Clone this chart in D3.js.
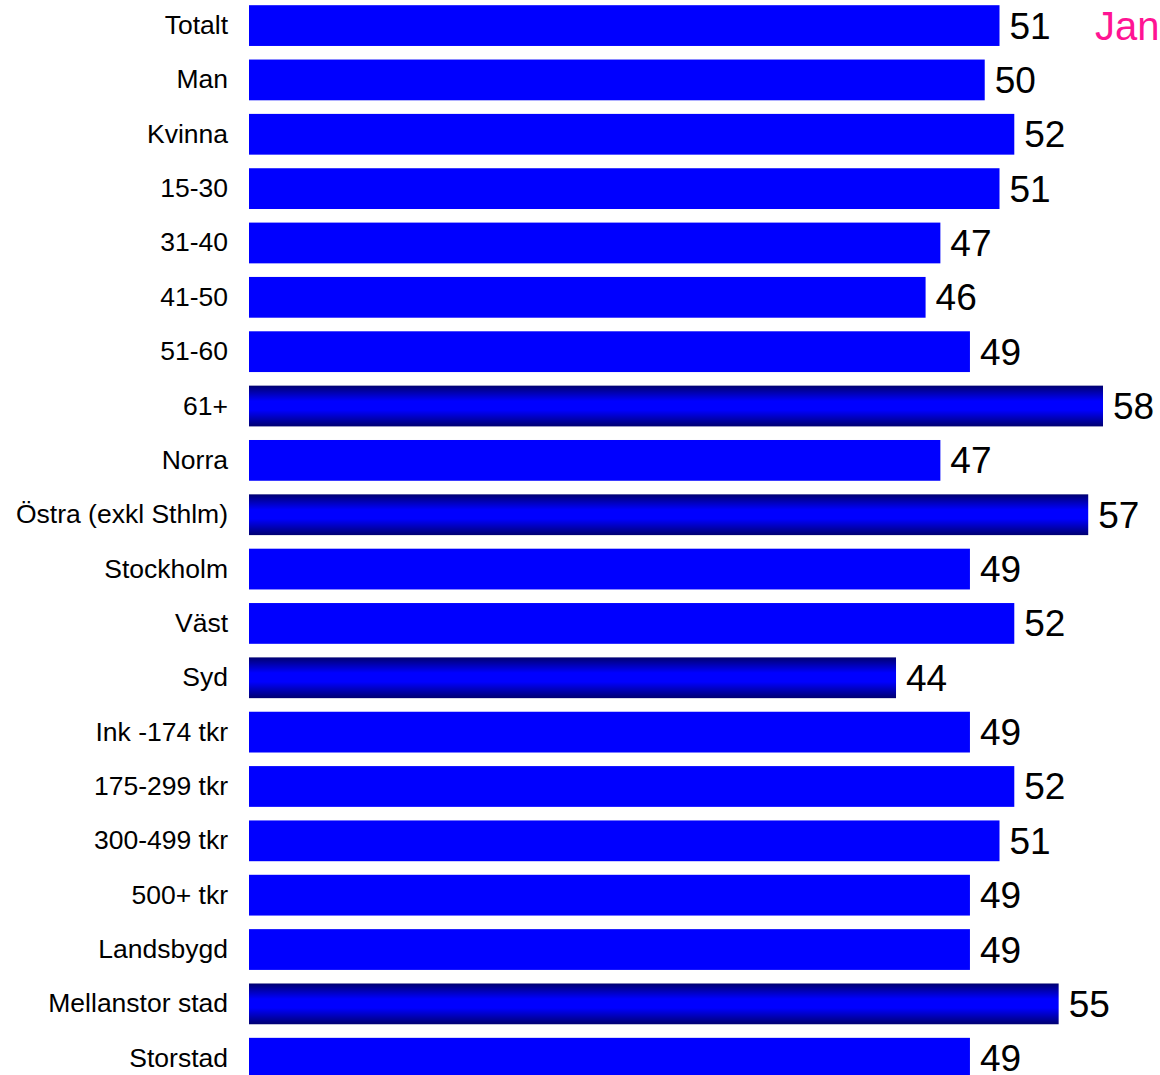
<!DOCTYPE html>
<html><head><meta charset="utf-8">
<script src="https://cdn.jsdelivr.net/npm/d3@7/dist/d3.min.js"></script>
<style>body{margin:0;background:#fff;}svg{display:block;}</style>
</head><body>
<script>
const categories = ["Totalt","Man","Kvinna","15-30","31-40","41-50","51-60","61+","Norra","Östra (exkl Sthlm)","Stockholm","Väst","Syd","Ink -174 tkr","175-299 tkr","300-499 tkr","500+ tkr","Landsbygd","Mellanstor stad","Storstad"];
const values = [51,50,52,51,47,46,49,58,47,57,49,52,44,49,52,51,49,49,55,49];
const highlighted = [false,false,false,false,false,false,false,true,false,true,false,false,true,false,false,false,false,false,true,false];
const periodLabel = "Jan";

const W = 1160, H = 1075;
const svg = d3.select("body").append("svg").attr("width", W).attr("height", H);
const font = "'Liberation Sans', Arial, Helvetica, sans-serif";

const defs = svg.append("defs");
const g = defs.append("linearGradient").attr("id","hl").attr("x1",0).attr("y1",0).attr("x2",0).attr("y2",1);
[[0,"#000070"],[0.38,"#0000ff"],[0.6,"#0000ff"],[1,"#000070"]].forEach(([o,c])=>g.append("stop").attr("offset",o).attr("stop-color",c));

const x = d3.scaleLinear().domain([0, 58]).range([245.5, 1103]);
const y = d3.scaleBand().domain(categories).range([-1.6, 1085.4]).paddingInner(0.25).paddingOuter(0.125);
const barLeft = 249;

const rows = svg.append("g").selectAll("g").data(categories).join("g");
rows.append("rect")
  .attr("x", barLeft)
  .attr("y", d => y(d))
  .attr("height", y.bandwidth())
  .attr("width", (d,i) => x(values[i]) - barLeft)
  .attr("fill", (d,i) => highlighted[i] ? "url(#hl)" : "#0000ff");

rows.append("text")
  .attr("x", 228)
  .attr("y", d => y(d) + y.bandwidth()/2 + 8.5)
  .attr("text-anchor","end")
  .attr("font-family", font)
  .attr("font-size", 26.5)
  .attr("fill","#000")
  .text(d => d);

rows.append("text")
  .attr("x", (d,i) => x(values[i]) + 10)
  .attr("y", d => y(d) + y.bandwidth()/2 + 13)
  .attr("font-family", font)
  .attr("font-size", 37)
  .attr("fill","#000")
  .text((d,i) => values[i]);

svg.append("text")
  .attr("x", 1095)
  .attr("y", y(categories[0]) + y.bandwidth()/2 + 14)
  .attr("font-family", font)
  .attr("font-size", 40)
  .attr("fill","#ff1493")
  .text(periodLabel);
</script>
</body></html>
